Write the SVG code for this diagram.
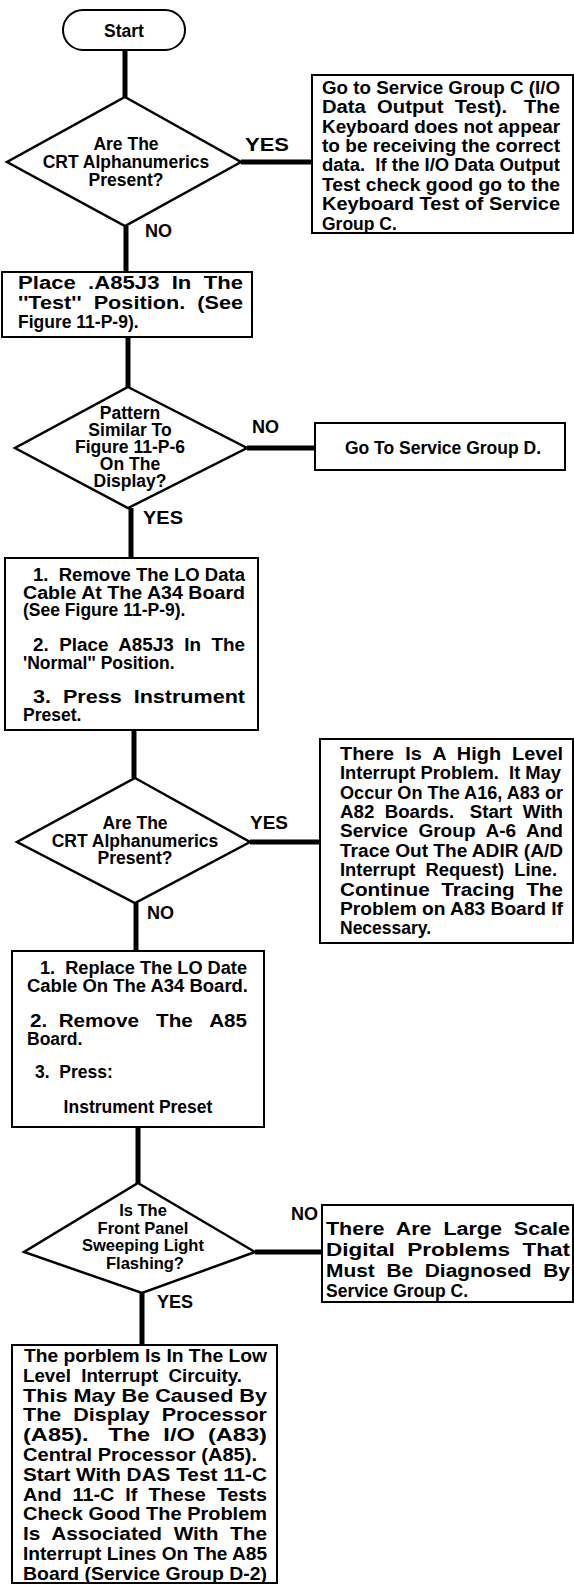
<svg xmlns="http://www.w3.org/2000/svg" width="574" height="1585" viewBox="0 0 574 1585">
<style>
text{font-family:"Liberation Sans",Arial,Helvetica,sans-serif;font-weight:bold;font-size:17.5px;fill:#000}
.c{text-anchor:middle}
.box{fill:#fff;stroke:#000;stroke-width:2}
.dia{fill:#fff;stroke:#000;stroke-width:2.5;stroke-linejoin:miter}
.con{fill:none;stroke:#000;stroke-width:5}
.lbl{font-size:18px}
.sm{font-size:16.5px}
</style>
<rect width="574" height="1585" fill="#fff"/>
<g id="connectors">
<path class="con" d="M125,50V97"/>
<path class="con" d="M241,162H312"/>
<path class="con" d="M126,226V272"/>
<path class="con" d="M128,337V387"/>
<path class="con" d="M247,448H315"/>
<path class="con" d="M131,508V558"/>
<path class="con" d="M134,730V778"/>
<path class="con" d="M250,842H320"/>
<path class="con" d="M136,903V951"/>
<path class="con" d="M138,1127V1183"/>
<path class="con" d="M255,1252H322"/>
<path class="con" d="M142,1293V1345"/>
</g>
<g id="labels">
<text class="lbl" x="245" y="151" textLength="44" lengthAdjust="spacingAndGlyphs">YES</text>
<text class="lbl" x="145" y="237">NO</text>
<text class="lbl" x="252" y="433">NO</text>
<text class="lbl" x="143" y="524" textLength="40" lengthAdjust="spacingAndGlyphs">YES</text>
<text class="lbl" x="250" y="829" textLength="38" lengthAdjust="spacingAndGlyphs">YES</text>
<text class="lbl" x="147" y="919">NO</text>
<text class="lbl" x="291" y="1220">NO</text>
<text class="lbl" x="157" y="1308" textLength="36" lengthAdjust="spacingAndGlyphs">YES</text>
</g>
<g id="start">
<rect class="box" x="63" y="10" width="122" height="40" rx="20" ry="20"/>
<text class="c" x="124" y="37">Start</text>
</g>
<g id="q1">
<polygon class="dia" points="125,97 241,162 125,226 7,162"/>
<text class="c" x="126" y="150">Are The</text>
<text class="c" x="126" y="168">CRT Alphanumerics</text>
<text class="c" x="126" y="185.5">Present?</text>
</g>
<g id="b1">
<rect class="box" x="312" y="75" width="261" height="158"/>
<text x="322" y="94" textLength="238" lengthAdjust="spacingAndGlyphs">Go to Service Group C (I/O</text>
<text x="322" y="113.4" textLength="238" lengthAdjust="spacingAndGlyphs" xml:space="preserve">Data  Output  Test).   The</text>
<text x="322" y="132.7" textLength="238" lengthAdjust="spacingAndGlyphs">Keyboard does not appear</text>
<text x="322" y="152.1" textLength="238" lengthAdjust="spacingAndGlyphs">to be receiving the correct</text>
<text x="322" y="171.4" textLength="238" lengthAdjust="spacingAndGlyphs" xml:space="preserve">data.  If the I/O Data Output</text>
<text x="322" y="190.8" textLength="238" lengthAdjust="spacingAndGlyphs">Test check good go to the</text>
<text x="322" y="210.2" textLength="238" lengthAdjust="spacingAndGlyphs">Keyboard Test of Service</text>
<text x="322" y="229.5">Group C.</text>
</g>
<g id="b2">
<rect class="box" x="2" y="272" width="250" height="65"/>
<text x="18" y="289" textLength="225" lengthAdjust="spacingAndGlyphs" xml:space="preserve">Place  .A85J3  In  The</text>
<text x="18" y="308.5" textLength="225" lengthAdjust="spacingAndGlyphs" xml:space="preserve">''Test''  Position.  (See</text>
<text x="18" y="328">Figure 11-P-9).</text>
</g>
<g id="q2">
<polygon class="dia" points="128,387 247,448 128,508 15,448"/>
<text class="c" x="130" y="419">Pattern</text>
<text class="c" x="130" y="436">Similar To</text>
<text class="c" x="130" y="453">Figure 11-P-6</text>
<text class="c" x="130" y="470">On The</text>
<text class="c" x="130" y="487">Display?</text>
</g>
<g id="bd">
<rect class="box" x="315" y="423" width="250" height="47"/>
<text class="c" x="443" y="454">Go To Service Group D.</text>
</g>
<g id="b3">
<rect class="box" x="5" y="558" width="253" height="172"/>
<text x="33" y="581" textLength="212" lengthAdjust="spacingAndGlyphs" xml:space="preserve">1.  Remove The LO Data</text>
<text x="23" y="598.5" textLength="222" lengthAdjust="spacingAndGlyphs">Cable At The A34 Board</text>
<text x="23" y="616">(See Figure 11-P-9).</text>
<text x="33" y="651" textLength="212" lengthAdjust="spacingAndGlyphs" xml:space="preserve">2.  Place  A85J3  In  The</text>
<text x="23" y="668.5">'Normal'' Position.</text>
<text x="33" y="703" textLength="212" lengthAdjust="spacingAndGlyphs" xml:space="preserve">3.  Press  Instrument</text>
<text x="23" y="720.5">Preset.</text>
</g>
<g id="q3">
<polygon class="dia" points="135,778 250,842 135,903 17,842"/>
<text class="c" x="135" y="829">Are The</text>
<text class="c" x="135" y="846.5">CRT Alphanumerics</text>
<text class="c" x="135" y="864">Present?</text>
</g>
<g id="b4">
<rect class="box" x="320" y="739" width="253" height="204"/>
<text x="340" y="760" textLength="223" lengthAdjust="spacingAndGlyphs" xml:space="preserve">There  Is  A  High  Level</text>
<text x="340" y="779.4" textLength="221" lengthAdjust="spacingAndGlyphs" xml:space="preserve">Interrupt Problem.  It May</text>
<text x="340" y="798.7" textLength="223" lengthAdjust="spacingAndGlyphs">Occur On The A16, A83 or</text>
<text x="340" y="818.1" textLength="223" lengthAdjust="spacingAndGlyphs" xml:space="preserve">A82  Boards.   Start  With</text>
<text x="340" y="837.4" textLength="223" lengthAdjust="spacingAndGlyphs" xml:space="preserve">Service  Group  A-6  And</text>
<text x="340" y="856.8" textLength="223" lengthAdjust="spacingAndGlyphs">Trace Out The ADIR (A/D</text>
<text x="340" y="876.1" textLength="217" lengthAdjust="spacingAndGlyphs" xml:space="preserve">Interrupt  Request)  Line.</text>
<text x="340" y="895.5" textLength="223" lengthAdjust="spacingAndGlyphs" xml:space="preserve">Continue  Tracing  The</text>
<text x="340" y="914.8" textLength="223" lengthAdjust="spacingAndGlyphs">Problem on A83 Board If</text>
<text x="340" y="934.2">Necessary.</text>
</g>
<g id="b5">
<rect class="box" x="12" y="951" width="252" height="176"/>
<text x="40" y="974" textLength="207" lengthAdjust="spacingAndGlyphs" xml:space="preserve">1.  Replace The LO Date</text>
<text x="27" y="991.5" textLength="221" lengthAdjust="spacingAndGlyphs">Cable On The A34 Board.</text>
<text x="30" y="1027" textLength="217" lengthAdjust="spacingAndGlyphs" xml:space="preserve">2.  Remove   The   A85</text>
<text x="27" y="1044.5">Board.</text>
<text x="35" y="1078" xml:space="preserve">3.  Press:</text>
<text class="c" x="138" y="1113">Instrument Preset</text>
</g>
<g id="q4">
<polygon class="dia" points="138,1183 255,1252 142,1293 24,1252"/>
<text class="c sm" x="143" y="1216">Is The</text>
<text class="c sm" x="143" y="1233.5">Front Panel</text>
<text class="c sm" x="143" y="1251">Sweeping Light</text>
<text class="c sm" x="145" y="1268.5">Flashing?</text>
</g>
<g id="b6">
<rect class="box" x="322" y="1205" width="251" height="97"/>
<text x="326" y="1235" textLength="244" lengthAdjust="spacingAndGlyphs" xml:space="preserve">There  Are  Large  Scale</text>
<text x="326" y="1256" textLength="244" lengthAdjust="spacingAndGlyphs" xml:space="preserve">Digital  Problems  That</text>
<text x="326" y="1277" textLength="244" lengthAdjust="spacingAndGlyphs" xml:space="preserve">Must  Be  Diagnosed  By</text>
<text x="326" y="1297">Service Group C.</text>
</g>
<g id="b7">
<rect class="box" x="12" y="1345" width="265" height="238"/>
<text x="24" y="1362" textLength="243" lengthAdjust="spacingAndGlyphs">The porblem Is In The Low</text>
<text x="23" y="1381.8" textLength="219" lengthAdjust="spacingAndGlyphs" xml:space="preserve">Level  Interrupt  Circuity.</text>
<text x="23" y="1401.6" textLength="244" lengthAdjust="spacingAndGlyphs">This May Be Caused By</text>
<text x="23" y="1421.4" textLength="244" lengthAdjust="spacingAndGlyphs" xml:space="preserve">The  Display  Processor</text>
<text x="23" y="1441.2" textLength="244" lengthAdjust="spacingAndGlyphs" xml:space="preserve">(A85).   The  I/O  (A83)</text>
<text x="23" y="1461" textLength="234" lengthAdjust="spacingAndGlyphs">Central Processor (A85).</text>
<text x="23" y="1480.8" textLength="244" lengthAdjust="spacingAndGlyphs">Start With DAS Test 11-C</text>
<text x="23" y="1500.6" textLength="244" lengthAdjust="spacingAndGlyphs" xml:space="preserve">And  11-C  If  These  Tests</text>
<text x="23" y="1520.4" textLength="244" lengthAdjust="spacingAndGlyphs">Check Good The Problem</text>
<text x="23" y="1540.2" textLength="244" lengthAdjust="spacingAndGlyphs" xml:space="preserve">Is  Associated  With  The</text>
<text x="23" y="1560" textLength="244" lengthAdjust="spacingAndGlyphs">Interrupt Lines On The A85</text>
<text x="23" y="1579.8" textLength="244" lengthAdjust="spacingAndGlyphs">Board (Service Group D-2)</text>
</g>
</svg>
